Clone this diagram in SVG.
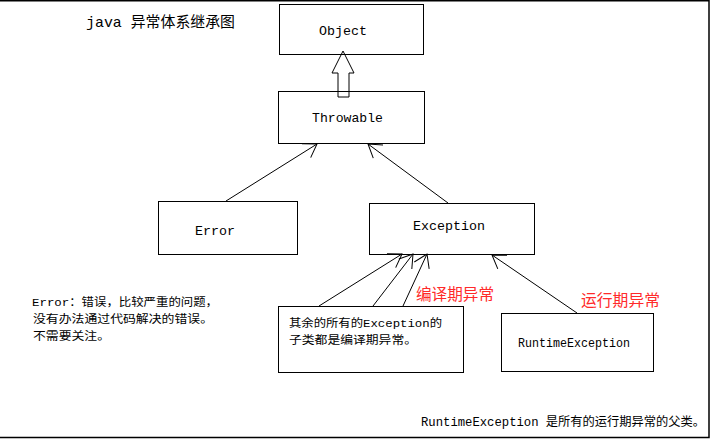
<svg xmlns="http://www.w3.org/2000/svg" width="710" height="439" viewBox="0 0 710 439">
<style>
.box{fill:none;stroke:#000;stroke-width:1}
.lbl{font-family:"Liberation Mono","Noto Sans CJK SC",monospace;font-size:13px;fill:#000}
.cn{font-family:"Liberation Mono","Noto Sans CJK SC",monospace;font-size:11.5px;fill:#000}
.red{font-family:"Noto Sans CJK SC","Liberation Sans",sans-serif;font-size:16px;fill:#ff2a2a}
.conn{fill:none;stroke:#000;stroke-width:1;marker-end:url(#open)}
</style>
<defs>
<marker id="open" viewBox="-16 -10 20 20" refX="0" refY="0" markerWidth="20" markerHeight="20" markerUnits="userSpaceOnUse" orient="auto" overflow="visible">
<path d="M-12.6,-8.2 L0,0 L-12.6,8.2" fill="none" stroke="#000" stroke-width="1"/>
</marker>
</defs>
<rect width="710" height="439" fill="#fff"/>
<path d="M0,0.75 H709 V437.5 H0" fill="none" stroke="#000" stroke-width="1.5"/>
<text class="lbl" x="86" y="27" textLength="149" lengthAdjust="spacingAndGlyphs" style="font-size:15px">java 异常体系继承图</text>
<g id="connectors">
<polygon points="343,51 354,73 349,73 349,97 338,97 338,73 332,73" fill="#fff" stroke="#000" stroke-width="1"/>
<line class="conn" x1="226" y1="201" x2="317" y2="144"/>
<line class="conn" x1="448" y1="203" x2="368" y2="144"/>
<line class="conn" x1="319" y1="306" x2="402" y2="254"/>
<line class="conn" x1="373" y1="306" x2="413" y2="254"/>
<line class="conn" x1="403" y1="306" x2="427" y2="254"/>
<line class="conn" x1="577" y1="313" x2="492" y2="255"/>
</g>
<g id="object">
<rect class="box" x="279.5" y="4.5" width="144" height="50"/>
<text class="lbl" x="319" y="35" textLength="48" lengthAdjust="spacingAndGlyphs">Object</text>
</g>
<g id="throwable">
<rect class="box" x="278.5" y="91.5" width="146" height="52"/>
<text class="lbl" x="312" y="122" textLength="71" lengthAdjust="spacingAndGlyphs">Throwable</text>
</g>
<g id="error">
<rect class="box" x="158.5" y="201.5" width="139" height="53"/>
<text class="lbl" x="195" y="235" textLength="40" lengthAdjust="spacingAndGlyphs">Error</text>
</g>
<g id="exception">
<rect class="box" x="369.5" y="203.5" width="165" height="51"/>
<text class="lbl" x="413" y="230" textLength="72" lengthAdjust="spacingAndGlyphs">Exception</text>
</g>
<g id="other-exceptions">
<rect class="box" x="278.5" y="306.5" width="185" height="66"/>
<text class="cn" x="289" y="327" textLength="153" lengthAdjust="spacingAndGlyphs">其余的所有的Exception的</text>
<text class="cn" x="289" y="344" textLength="128" lengthAdjust="spacingAndGlyphs">子类都是编译期异常。</text>
</g>
<g id="runtime-exception">
<rect class="box" x="501.5" y="313.5" width="152" height="58"/>
<text class="lbl" x="518" y="347" textLength="112" lengthAdjust="spacingAndGlyphs" style="font-size:12px">RuntimeException</text>
</g>
<g id="error-note">
<text class="cn" x="32" y="306" textLength="186" lengthAdjust="spacingAndGlyphs">Error：错误，比较严重的问题，</text>
<text class="cn" x="33" y="323" textLength="180" lengthAdjust="spacingAndGlyphs">没有办法通过代码解决的错误。</text>
<text class="cn" x="33" y="340" textLength="77" lengthAdjust="spacingAndGlyphs">不需要关注。</text>
</g>
<text class="red" x="416" y="300" textLength="78" lengthAdjust="spacingAndGlyphs">编译期异常</text>
<text class="red" x="581" y="306" textLength="79" lengthAdjust="spacingAndGlyphs">运行期异常</text>
<text class="cn" x="421" y="426" textLength="284" lengthAdjust="spacingAndGlyphs" style="font-size:12.5px">RuntimeException 是所有的运行期异常的父类。</text>
</svg>
